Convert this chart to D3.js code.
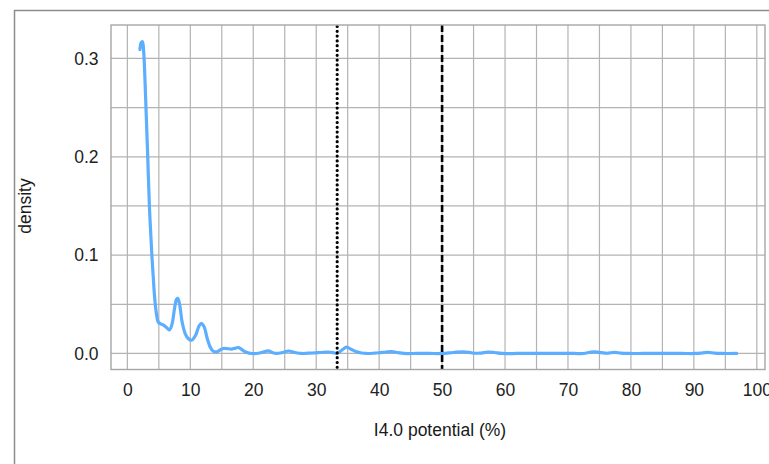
<!DOCTYPE html>
<html>
<head>
<meta charset="utf-8">
<script src="https://cdn.jsdelivr.net/npm/d3@7"></script>
<style>
  html, body { margin: 0; padding: 0; background: #fff; }
  svg { display: block; font-family: "Liberation Sans", Arial, sans-serif; }
</style>
</head>
<body>
<svg id="chart" width="769" height="464"></svg>
<script>
// ---- data ----
const densityX = [2.0, 2.2, 2.4, 2.6, 2.9, 3.2, 3.5, 3.9, 4.25, 4.45, 4.7, 4.9, 5.3, 5.7, 6.3, 6.7, 7.1, 7.5, 7.8, 8.0, 8.3, 8.7, 9.2, 9.7, 10.2, 10.8, 11.4, 11.8, 12.2, 12.7, 13.2, 13.6, 14.1, 14.6, 15.2, 15.8, 16.5, 17.2, 17.7, 18.4, 19.0, 19.75, 20.8, 21.6, 22.4, 23.0, 23.7, 24.7, 25.6, 26.6, 27.7, 28.7, 29.5, 30.7, 31.9, 32.7, 33.3, 34.0, 34.8, 35.6, 36.4, 37.2, 38.0, 39.2, 40.1, 41.1, 42.0, 43.0, 43.9, 46.0, 48.0, 50.0, 51.8, 53.4, 54.8, 56.0, 57.3, 58.3, 59.5, 62.0, 65.0, 68.0, 71.0, 72.5, 73.5, 74.3, 75.3, 76.2, 77.4, 78.4, 79.5, 82.0, 85.0, 88.0, 90.3, 91.3, 92.3, 93.3, 94.5, 96.8];
const densityY = [0.309, 0.316, 0.317, 0.306, 0.26, 0.207, 0.15, 0.099, 0.064, 0.049, 0.037, 0.032, 0.030, 0.029, 0.026, 0.024, 0.030, 0.046, 0.055, 0.056, 0.050, 0.032, 0.020, 0.015, 0.0135, 0.018, 0.028, 0.0305, 0.027, 0.015, 0.006, 0.0025, 0.0016, 0.003, 0.005, 0.005, 0.0045, 0.0055, 0.006, 0.003, 0.001, 0.0, 0.0002, 0.0015, 0.0027, 0.001, 0.0, 0.001, 0.0025, 0.001, 0.0, 0.0003, 0.0005, 0.001, 0.0015, 0.0008, 0.0002, 0.003, 0.0065, 0.004, 0.0017, 0.0005, 0.0, 0.0003, 0.0008, 0.0015, 0.0018, 0.0008, 0.0, 0.0, 0.0, 0.0, 0.001, 0.0017, 0.0005, 0.0003, 0.0015, 0.001, 0.0, 0.0, 0.0, 0.0, 0.0, 0.0, 0.0012, 0.0017, 0.0008, 0.0002, 0.0012, 0.0003, 0.0, 0.0, 0.0, 0.0, 0.0, 0.0005, 0.0012, 0.0003, 0.0, 0.0];
const xTicks = [0, 10, 20, 30, 40, 50, 60, 70, 80, 90, 100];
const xMinor = [5, 15, 25, 35, 45, 55, 65, 75, 85, 95];
const yTicks = [0.0, 0.1, 0.2, 0.3];
const yMinor = [0.05, 0.15, 0.25];
const refLines = [100 / 3, 50];
const xTitle = "I4.0 potential (%)";
const yTitle = "density";

// ---- layout ----
const panel = { left: 111, right: 765, top: 25, bottom: 369.5 };
const svg = d3.select("#chart");

const x = d3.scaleLinear().domain([-2.6, 101.3]).range([panel.left, panel.right]);
const y = d3.scaleLinear().domain([-0.0163, 0.334]).range([panel.bottom, panel.top]);

// outer frame
svg.append("rect")
  .attr("x", 14.5).attr("y", 10.5)
  .attr("width", 800).attr("height", 500)
  .attr("fill", "#fff").attr("stroke", "#8c8c8c").attr("stroke-width", 1.5);

// panel background
svg.append("rect")
  .attr("x", panel.left).attr("y", panel.top)
  .attr("width", panel.right - panel.left).attr("height", panel.bottom - panel.top)
  .attr("fill", "#fff");

const grid = svg.append("g").attr("stroke", "#b3b3b3").attr("stroke-width", 1.2);
grid.selectAll("line.vx").data(xMinor.concat(xTicks)).join("line")
  .attr("x1", d => x(d)).attr("x2", d => x(d))
  .attr("y1", panel.top).attr("y2", panel.bottom);
grid.selectAll("line.hy").data(yMinor.concat(yTicks)).join("line")
  .attr("x1", panel.left).attr("x2", panel.right)
  .attr("y1", d => y(d)).attr("y2", d => y(d));

// density curve
const pts = densityX.map((d, i) => [d, densityY[i]]);
const line = d3.line().x(d => x(d[0])).y(d => y(d[1])).curve(d3.curveCatmullRom.alpha(0.5));
svg.append("path")
  .datum(pts)
  .attr("d", line)
  .attr("fill", "none")
  .attr("stroke", "#5caeff")
  .attr("stroke-width", 3.2)
  .attr("stroke-linejoin", "round")
  .attr("stroke-linecap", "round");

// reference lines
svg.append("line")
  .attr("x1", x(refLines[0])).attr("x2", x(refLines[0]))
  .attr("y1", panel.top + 1.5).attr("y2", panel.bottom + 2)
  .attr("stroke", "#000").attr("stroke-width", 3.2)
  .attr("stroke-linecap", "round").attr("stroke-dasharray", "0,4.8");
svg.append("line")
  .attr("x1", x(refLines[1])).attr("x2", x(refLines[1]))
  .attr("y1", panel.top).attr("y2", panel.bottom)
  .attr("stroke", "#000").attr("stroke-width", 2.6)
  .attr("stroke-dasharray", "7,3");

// panel border
svg.append("rect")
  .attr("x", panel.left).attr("y", panel.top)
  .attr("width", panel.right - panel.left).attr("height", panel.bottom - panel.top)
  .attr("fill", "none").attr("stroke", "#a6a6a6").attr("stroke-width", 1.4);

// axes
const xAxis = svg.append("g")
  .attr("transform", `translate(0,${panel.bottom})`)
  .call(d3.axisBottom(x).tickValues(xTicks).tickSize(0).tickPadding(14.5).tickFormat(d3.format("d")));
const yAxis = svg.append("g")
  .attr("transform", `translate(${panel.left},0)`)
  .call(d3.axisLeft(y).tickValues(yTicks).tickSize(0).tickPadding(12.5).tickFormat(d3.format(".1f")));
[xAxis, yAxis].forEach(g => {
  g.select(".domain").remove();
  g.selectAll("text").attr("fill", "#222").style("font-size", "17.5px")
    .style("font-family", "'Liberation Sans', Arial, sans-serif");
});

// titles
svg.append("text")
  .attr("x", 440).attr("y", 436)
  .attr("text-anchor", "middle")
  .attr("fill", "#1a1a1a").style("font-size", "17.5px")
  .text(xTitle);
svg.append("text")
  .attr("transform", "translate(31,206) rotate(-90)")
  .attr("text-anchor", "middle")
  .attr("fill", "#1a1a1a").style("font-size", "17.5px")
  .text(yTitle);
</script>
</body>
</html>
